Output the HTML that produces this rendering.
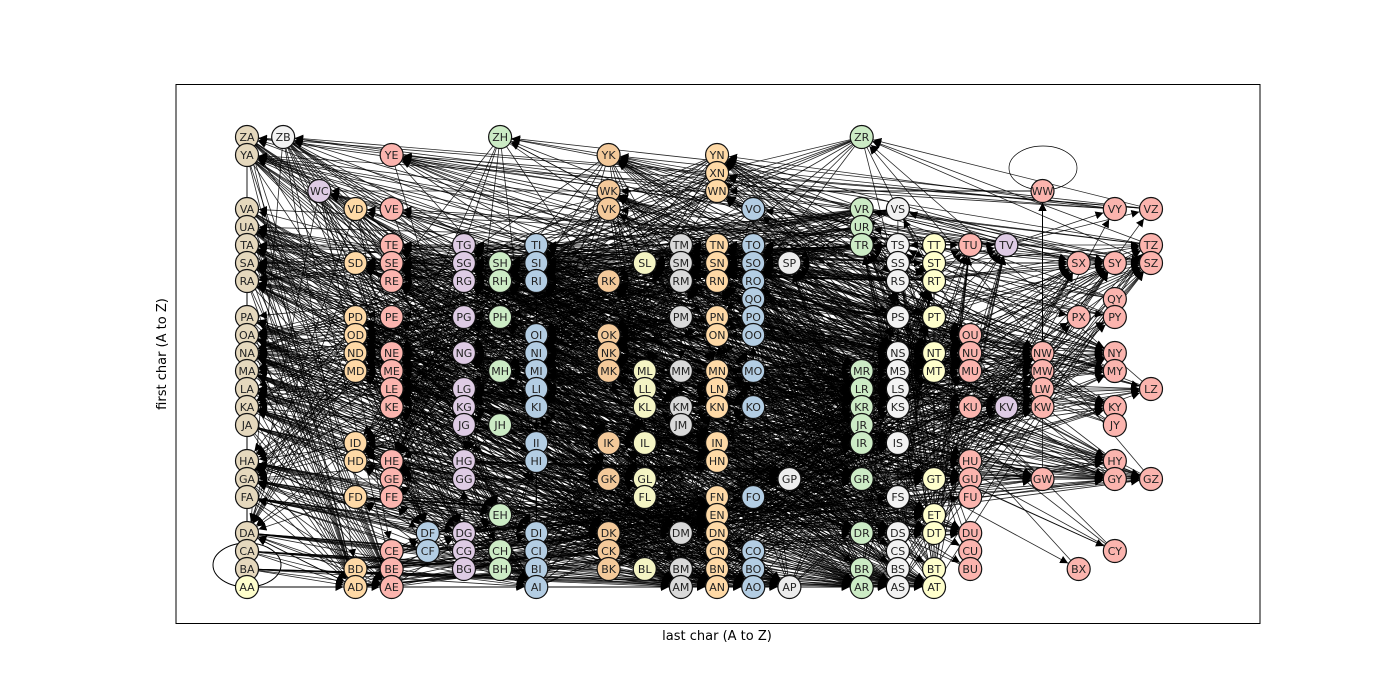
<!DOCTYPE html>
<html><head><meta charset="utf-8"><style>
html,body{margin:0;padding:0;background:#fff;}
svg{display:block;}
text{font-family:"DejaVu Sans","Liberation Sans",sans-serif;}
</style></head><body>
<svg id="chart" width="1400" height="700" viewBox="0 0 1400 700" xmlns="http://www.w3.org/2000/svg">
<defs><marker id="arr" viewBox="0 0 10 10" refX="10" refY="5" markerWidth="8" markerHeight="8" markerUnits="userSpaceOnUse" orient="auto"><path d="M0,0 L10,5 L0,10 z" fill="#000"/></marker></defs>
<rect x="176" y="84.5" width="1084" height="539" fill="#fff" stroke="#000" stroke-width="1"/>
<g id="edges"></g>
<ellipse cx="247" cy="565" rx="34" ry="22" fill="none" stroke="#000" stroke-width="1"/>
<ellipse cx="1043" cy="168" rx="34" ry="22" fill="none" stroke="#000" stroke-width="0.7"/>
<g id="nodes"></g>
<text x="717" y="640" font-size="13" text-anchor="middle">last char (A to Z)</text>
<text x="166" y="354" font-size="13" text-anchor="middle" transform="rotate(-90 166 354)">first char (A to Z)</text>
</svg>
<script>
const nodeRows = [
"ZA ZB ZH ZR","YA YE YK YN","XN","WC WK WN WW",
"VA VD VE VK VO VR VS VY VZ","UA UR",
"TA TE TG TI TM TN TO TR TS TT TU TV TZ",
"SA SD SE SG SH SI SL SM SN SO SP SS ST SX SY SZ",
"RA RE RG RH RI RK RM RN RO RS RT","QO QY",
"PA PD PE PG PH PM PN PO PS PT PX PY",
"OA OD OI OK ON OO OU",
"NA ND NE NG NI NK NS NT NU NW NY",
"MA MD ME MH MI MK ML MM MN MO MR MS MT MU MW MY",
"LA LE LG LI LL LN LR LS LW LZ",
"KA KE KG KI KL KM KN KO KR KS KU KV KW KY",
"JA JG JH JM JR JY","ID II IK IL IN IR IS",
"HA HD HE HG HI HN HU HY",
"GA GE GG GK GL GP GR GT GU GW GY GZ",
"FA FD FE FL FN FO FS FU","EH EN ET",
"DA DF DG DI DK DM DN DR DS DT DU",
"CA CE CF CG CH CI CK CN CO CS CU CY",
"BA BD BE BG BH BI BK BL BM BN BO BR BS BT BU BX",
"AA AD AE AI AM AN AO AP AR AS AT"
];
const nodes = nodeRows.join(" ").split(" ");
const colColors = {A:"#e5d8bd",B:"#f2f2f2",C:"#decbe4",D:"#fed9a6",E:"#fbb4ae",F:"#b3cde3",G:"#decbe4",H:"#ccebc5",I:"#b3cde3",K:"#f3c99a",L:"#f4f4c4",M:"#d9d9d9",N:"#fed9a6",O:"#b3cde3",P:"#ececec",R:"#ccebc5",S:"#f2f2f2",T:"#ffffcc",U:"#fbb4ae",V:"#decbe4",W:"#fbb4ae",X:"#fbb4ae",Y:"#fbb4ae",Z:"#fbb4ae"};
const xOf = c => 247 + (c.charCodeAt(0)-65)*36.16;
const yOf = c => 587 - (c.charCodeAt(0)-65)*18;
const NS="http://www.w3.org/2000/svg";
const eg=document.getElementById('edges');
for(const u of nodes){
  for(const v of nodes){
    if(u[1]!==v[0]||u===v) continue;
    const x1=xOf(u[1]),y1=yOf(u[0]),x2=xOf(v[1]),y2=yOf(v[0]);
    const d=Math.hypot(x2-x1,y2-y1)||1;
    const l=document.createElementNS(NS,'line');
    
    
    l.setAttribute('x1',x1);l.setAttribute('y1',y1);
    l.setAttribute('x2',x2-(x2-x1)*12/d);l.setAttribute('y2',y2-(y2-y1)*12/d);
    l.setAttribute('stroke','#000');l.setAttribute('stroke-width','0.8');l.setAttribute('stroke-opacity','0.85');
    l.setAttribute('marker-end','url(#arr)');
    eg.appendChild(l);
  }
}
const ng=document.getElementById('nodes');
for(const n of nodes){
  const g=document.createElementNS(NS,'g');
  
  
  const c=document.createElementNS(NS,'circle');
  c.setAttribute('cx',xOf(n[1]));c.setAttribute('cy',yOf(n[0]));c.setAttribute('r','11.5');
  c.setAttribute('fill',n==='AA'?'#ffffcc':(colColors[n[1]]||'#eee'));
  c.setAttribute('stroke','#111');c.setAttribute('stroke-width','1.2');
  const t=document.createElementNS(NS,'text');
  t.setAttribute('x',xOf(n[1]));t.setAttribute('y',yOf(n[0])+4);
  t.setAttribute('font-size','11');t.setAttribute('text-anchor','middle');t.setAttribute('fill','#222');
  t.textContent=n;
  g.appendChild(c);g.appendChild(t);ng.appendChild(g);
}
</script>
</body></html>
